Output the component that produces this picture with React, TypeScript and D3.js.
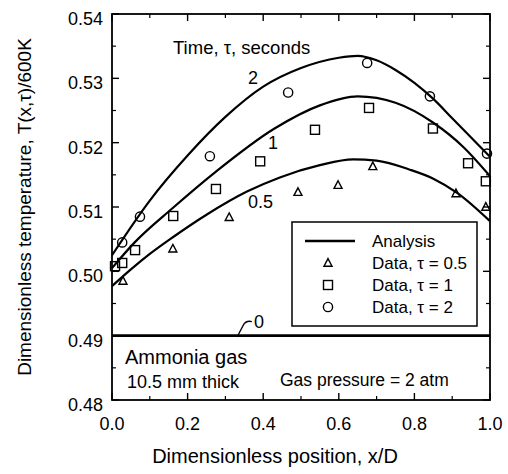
import React from "react";
import * as d3 from "d3";

// Axis ticks
const xMajorTicks = [0, 0.2, 0.4, 0.6, 0.8, 1.0];
const xMinorTicks = [0.1, 0.3, 0.5, 0.7, 0.9];
const yMajorTicks = [0.48, 0.49, 0.5, 0.51, 0.52, 0.53, 0.54];
const yMinorTicks = [0.485, 0.495, 0.505, 0.515, 0.525, 0.535];
const xTickLabels = ["0.0", "0.2", "0.4", "0.6", "0.8", "1.0"];
const yTickLabels = ["0.48", "0.49", "0.50", "0.51", "0.52", "0.53", "0.54"];

// Analysis curves (dimensionless position vs temperature)
const analysisX0 = [0, 1];
const analysisY0 = [0.49, 0.49];

const analysisX05 = [0, 0.05, 0.1, 0.161, 0.25, 0.357, 0.444, 0.55, 0.638, 0.7, 0.788, 0.85, 0.913, 1.0];
const analysisY05 = [0.4977, 0.5003, 0.5027, 0.5053, 0.5088, 0.5124, 0.5146, 0.5165, 0.5174, 0.5172, 0.5158, 0.5144, 0.5122, 0.5078];

const analysisX1 = [0, 0.06, 0.16, 0.275, 0.43, 0.55, 0.65, 0.75, 0.85, 0.93, 1.0];
const analysisY1 = [0.5005, 0.5045, 0.5098, 0.5155, 0.5222, 0.5258, 0.5272, 0.5262, 0.5231, 0.5193, 0.5148];

const analysisX2 = [0, 0.1, 0.2, 0.3, 0.4, 0.5, 0.6, 0.65, 0.7, 0.75, 0.8, 0.85, 0.9, 0.95, 1.0];
const analysisY2 = [0.5025, 0.511, 0.518, 0.524, 0.5287, 0.5316, 0.5332, 0.5335, 0.5328, 0.5313, 0.5293, 0.5268, 0.5238, 0.5208, 0.5178];

// Measured data
const dataX05 = [0.029, 0.161, 0.31, 0.492, 0.598, 0.69, 0.91, 0.989];
const dataY05 = [0.4985, 0.5035, 0.5084, 0.5123, 0.5134, 0.5163, 0.5121, 0.51];

const dataX1 = [0.008, 0.027, 0.061, 0.162, 0.275, 0.392, 0.537, 0.68, 0.849, 0.942, 0.989];
const dataY1 = [0.5008, 0.5013, 0.5033, 0.5086, 0.5128, 0.5171, 0.522, 0.5254, 0.5222, 0.5168, 0.514];

const dataX2 = [0.027, 0.074, 0.259, 0.466, 0.675, 0.841, 0.992];
const dataY2 = [0.5045, 0.5085, 0.5179, 0.5278, 0.5324, 0.5272, 0.5183];

const W = 508;
const H = 474;
const plot = { left: 112, right: 490, top: 14, bottom: 400 };
const FONT = "'Liberation Sans', Arial, Helvetica, sans-serif";

const x = d3.scaleLinear().domain([0, 1]).range([plot.left, plot.right]);
const y = d3.scaleLinear().domain([0.48, 0.54]).range([plot.bottom, plot.top]);

const line = d3
  .line<[number, number]>()
  .x((d) => x(d[0]))
  .y((d) => y(d[1]))
  .curve(d3.curveMonotoneX);

const zip = (xs: number[], ys: number[]): [number, number][] => xs.map((v, i) => [v, ys[i]]);

const triPath = (cx: number, cy: number, s = 8) =>
  `M${cx},${cy - s * 0.55}L${cx + s / 2},${cy + s * 0.4}L${cx - s / 2},${cy + s * 0.4}Z`;

const Triangle = ({ cx, cy }: { cx: number; cy: number }) => (
  <path d={triPath(cx, cy)} fill="none" stroke="#000" strokeWidth={1.4} />
);
const Square = ({ cx, cy }: { cx: number; cy: number }) => (
  <rect x={cx - 4.5} y={cy - 4.5} width={9} height={9} fill="none" stroke="#000" strokeWidth={1.4} />
);
const Circle = ({ cx, cy }: { cx: number; cy: number }) => (
  <circle cx={cx} cy={cy} r={4.6} fill="none" stroke="#000" strokeWidth={1.4} />
);

export default function App() {
  const curves = [
    { xs: analysisX0, ys: analysisY0, w: 2.6 },
    { xs: analysisX05, ys: analysisY05, w: 2.2 },
    { xs: analysisX1, ys: analysisY1, w: 2.2 },
    { xs: analysisX2, ys: analysisY2, w: 2.2 },
  ];

  const legendRows = [
    { label: "Analysis", kind: "line" },
    { label: "Data, \u03c4 = 0.5", kind: "tri" },
    { label: "Data, \u03c4 = 1", kind: "sq" },
    { label: "Data, \u03c4 = 2", kind: "circ" },
  ];

  return (
    <svg
      width={W}
      height={H}
      viewBox={`0 0 ${W} ${H}`}
      style={{ position: "absolute", left: 0, top: 0, background: "#fff" }}
      fontFamily={FONT}
    >
      <rect x={0} y={0} width={W} height={H} fill="#fff" />

      {/* frame */}
      <rect
        x={plot.left}
        y={plot.top}
        width={plot.right - plot.left}
        height={plot.bottom - plot.top}
        fill="none"
        stroke="#000"
        strokeWidth={1.8}
      />

      {/* x ticks, bottom and top, pointing inward */}
      {xMajorTicks.map((t) => (
        <g key={`xM${t}`} stroke="#000" strokeWidth={1.4}>
          <line x1={x(t)} x2={x(t)} y1={plot.bottom} y2={plot.bottom - 7} />
          <line x1={x(t)} x2={x(t)} y1={plot.top} y2={plot.top + 7} />
        </g>
      ))}
      {xMinorTicks.map((t) => (
        <g key={`xm${t}`} stroke="#000" strokeWidth={1.2}>
          <line x1={x(t)} x2={x(t)} y1={plot.bottom} y2={plot.bottom - 4} />
          <line x1={x(t)} x2={x(t)} y1={plot.top} y2={plot.top + 4} />
        </g>
      ))}
      {/* y ticks, left and right */}
      {yMajorTicks.map((t) => (
        <g key={`yM${t}`} stroke="#000" strokeWidth={1.4}>
          <line x1={plot.left} x2={plot.left + 7} y1={y(t)} y2={y(t)} />
          <line x1={plot.right} x2={plot.right - 7} y1={y(t)} y2={y(t)} />
        </g>
      ))}
      {yMinorTicks.map((t) => (
        <g key={`ym${t}`} stroke="#000" strokeWidth={1.2}>
          <line x1={plot.left} x2={plot.left + 4} y1={y(t)} y2={y(t)} />
          <line x1={plot.right} x2={plot.right - 4} y1={y(t)} y2={y(t)} />
        </g>
      ))}

      {/* tick labels */}
      {xMajorTicks.map((t, i) => (
        <text key={`xl${t}`} x={x(t)} y={430} textAnchor="middle" fontSize={18}>
          {xTickLabels[i]}
        </text>
      ))}
      {yMajorTicks.map((t, i) => (
        <text key={`yl${t}`} x={103} y={y(t) + 11} textAnchor="end" fontSize={18}>
          {yTickLabels[i]}
        </text>
      ))}

      {/* axis titles */}
      <text x={275} y={463} textAnchor="middle" fontSize={20}>
        Dimensionless position, x/D
      </text>
      <text transform={`translate(31, ${(plot.top + plot.bottom) / 2}) rotate(-90)`} textAnchor="middle" fontSize={19}>
        Dimensionless temperature, T(x,{"\u03c4"})/600K
      </text>

      {/* analysis curves */}
      {curves.map((c, i) => (
        <path key={`c${i}`} d={line(zip(c.xs, c.ys)) || ""} fill="none" stroke="#000" strokeWidth={c.w} />
      ))}

      {/* data markers */}
      {dataX05.map((v, i) => (
        <Triangle key={`t${i}`} cx={x(v)} cy={y(dataY05[i])} />
      ))}
      {dataX1.map((v, i) => (
        <Square key={`s${i}`} cx={x(v)} cy={y(dataY1[i])} />
      ))}
      {dataX2.map((v, i) => (
        <Circle key={`o${i}`} cx={x(v)} cy={y(dataY2[i])} />
      ))}

      {/* curve annotations */}
      <text x={173} y={54} fontSize={18.5}>
        Time, {"\u03c4"}, seconds
      </text>
      <text x={253} y={84} textAnchor="middle" fontSize={18}>2</text>
      <text x={273} y={149} textAnchor="middle" fontSize={18}>1</text>
      <text x={248} y={208} fontSize={18}>0.5</text>
      <path
        d={`M${x(0.331)},${y(0.4898)} L${x(0.347)},${y(0.4916)} Q${x(0.354)},${y(0.4924)} ${x(0.37)},${y(0.4922)}`}
        fill="none"
        stroke="#000"
        strokeWidth={1.3}
      />
      <text x={254} y={328} fontSize={18}>0</text>

      {/* case notes */}
      <text x={125} y={364} fontSize={20}>Ammonia gas</text>
      <text x={127} y={388} fontSize={18}>10.5 mm thick</text>
      <text x={280} y={386} fontSize={17.5}>Gas pressure = 2 atm</text>

      {/* legend */}
      <rect x={292} y={222} width={185} height={104} fill="#fff" stroke="#000" strokeWidth={1.5} />
      {legendRows.map((r, i) => {
        const cy = 241 + i * 22;
        return (
          <g key={r.label}>
            {r.kind === "line" && <line x1={305} x2={355} y1={cy} y2={cy} stroke="#000" strokeWidth={2.6} />}
            {r.kind === "tri" && <Triangle cx={328} cy={cy} />}
            {r.kind === "sq" && <Square cx={328} cy={cy} />}
            {r.kind === "circ" && <Circle cx={328} cy={cy} />}
            <text x={372} y={cy + 6} fontSize={17}>
              {r.label}
            </text>
          </g>
        );
      })}
    </svg>
  );
}
